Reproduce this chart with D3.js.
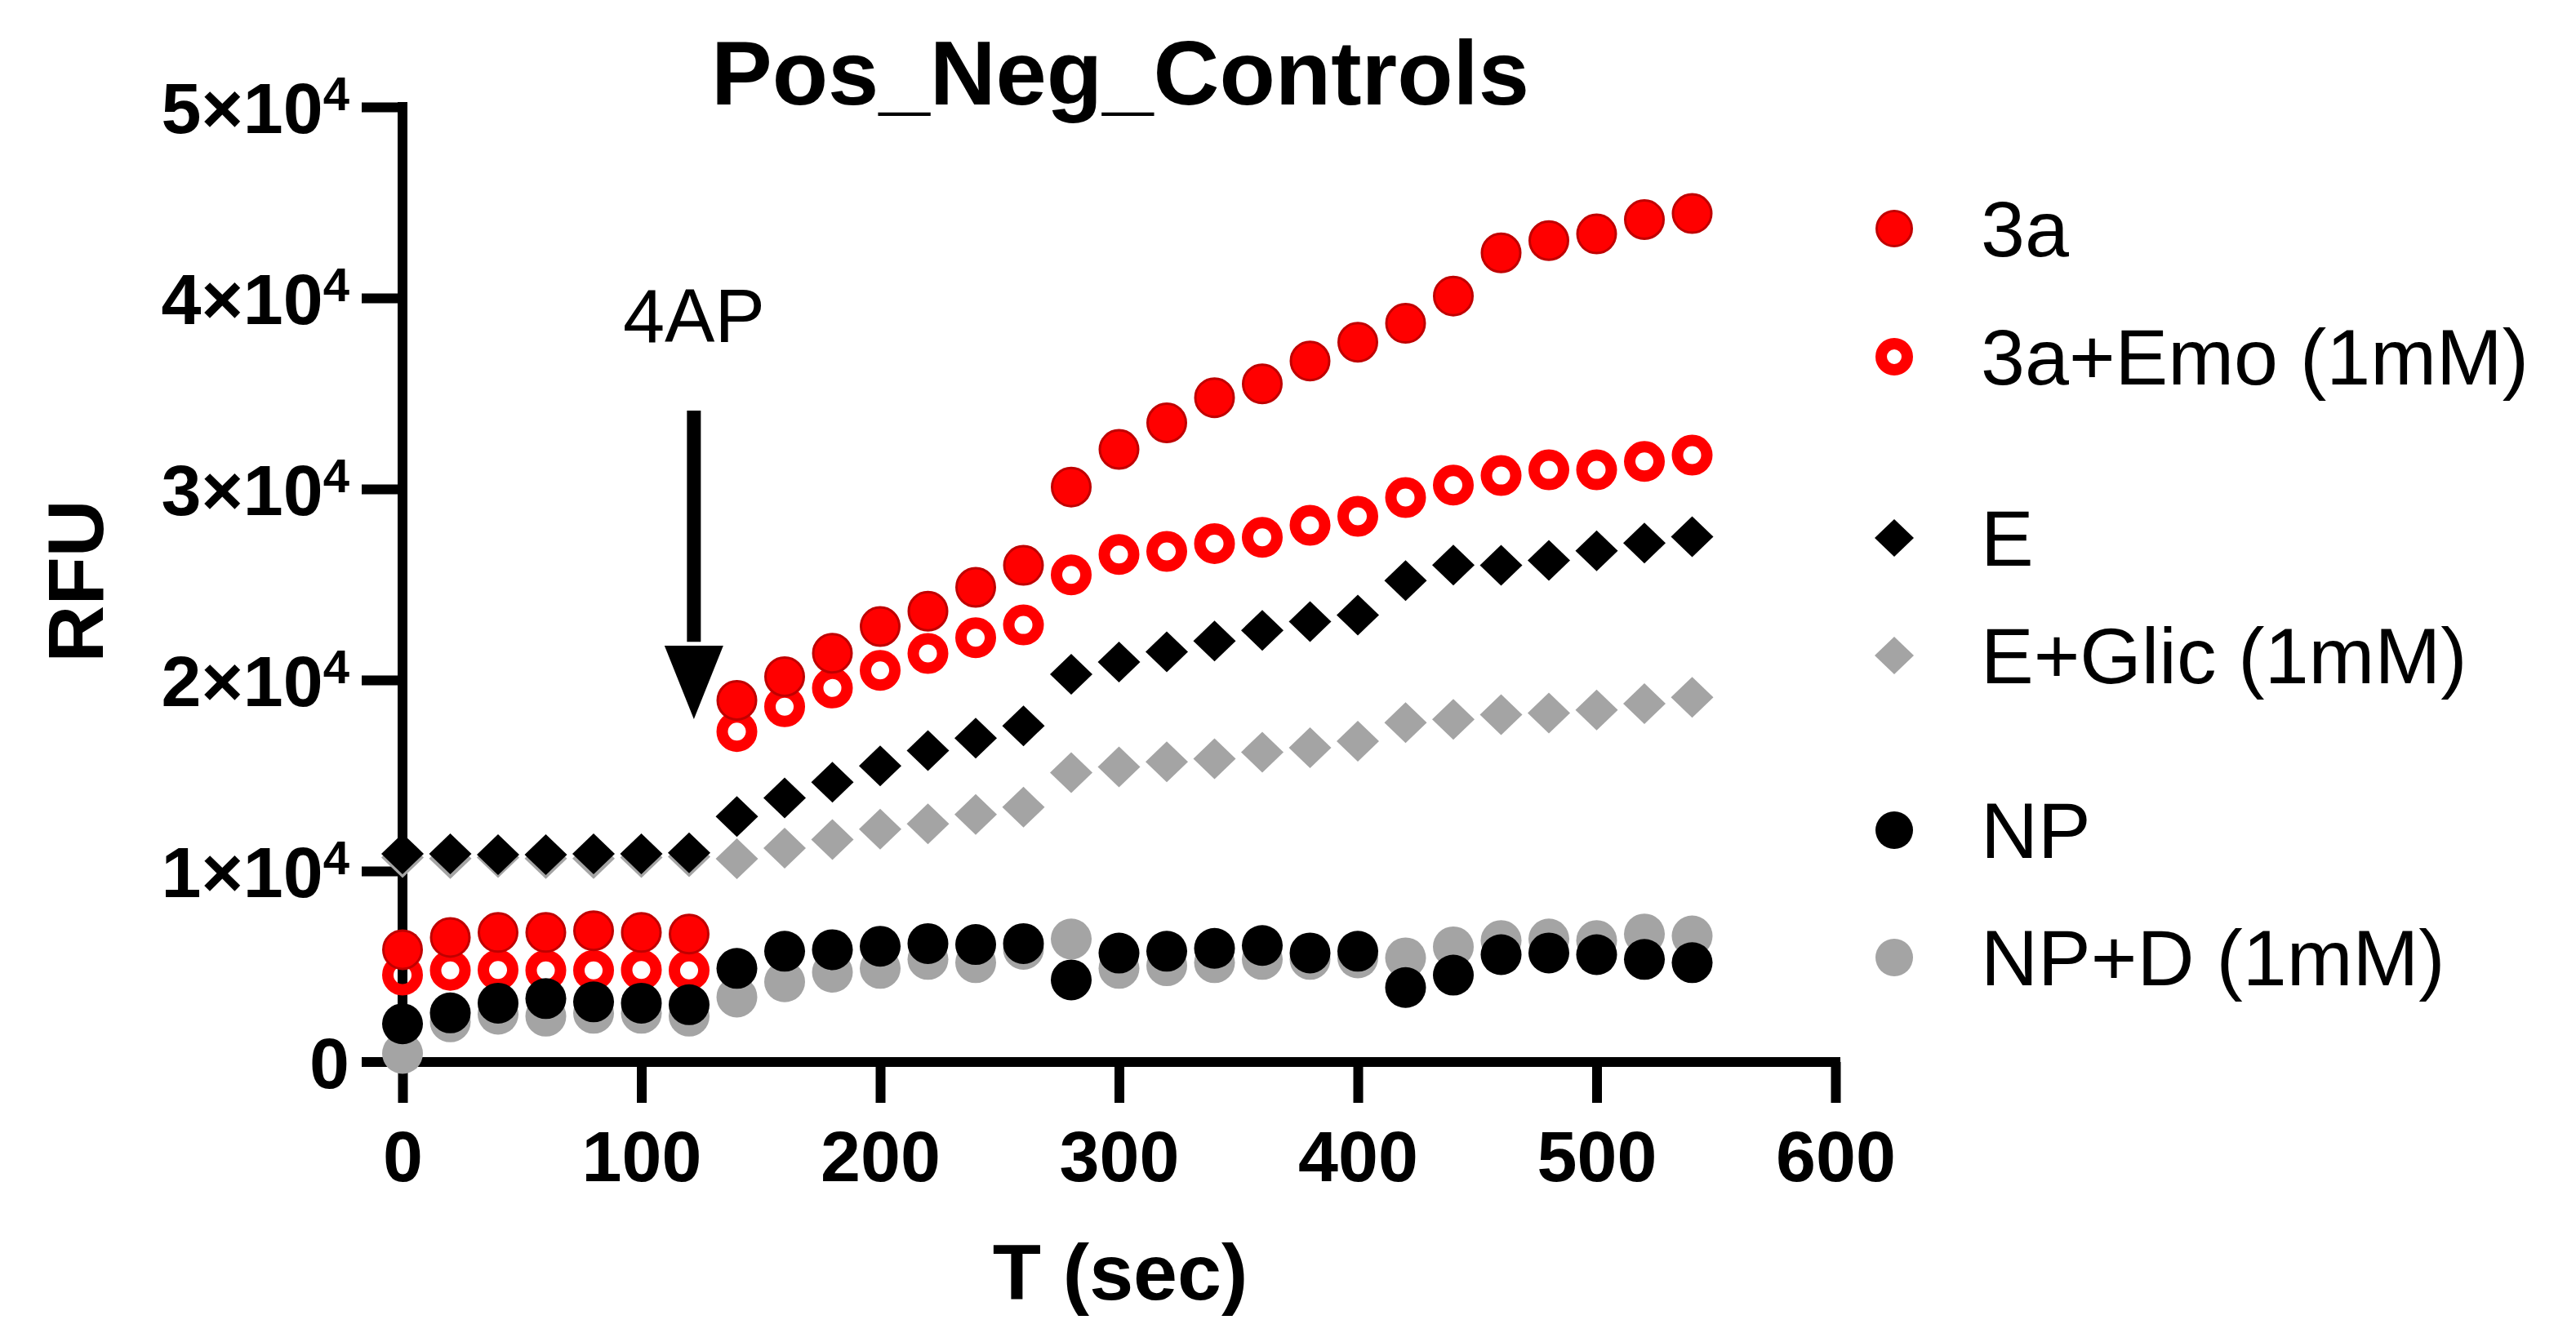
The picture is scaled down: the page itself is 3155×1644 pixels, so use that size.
<!DOCTYPE html>
<html>
<head>
<meta charset="utf-8">
<script src="https://cdn.jsdelivr.net/npm/d3@7"></script>
<style>
  body { margin: 0; background: #fff; }
  svg { display: block; }
</style>
</head>
<body>
<svg id="chart"></svg>
<script>
// time points (sec)
const times = [0,20,40,60,80,100,120,140,160,180,200,220,240,260,280,300,320,340,360,380,400,420,440,460,480,500,520,540];

// RFU
const rfu3a     = [5880,6520,6780,6780,6870,6780,6700,18930,20170,21400,22800,23600,24850,26000,30100,32070,33460,34780,35500,36700,37680,38670,40100,42360,43000,43350,44100,44420];
const rfu3aEmo  = [4550,4800,4820,4800,4800,4820,4800,17300,18600,19580,20500,21390,22210,22880,25500,26570,26730,27140,27470,28100,28570,29550,30200,30700,31000,31000,31440,31770];
const rfuE      = [10900,10900,10850,10850,10900,10900,10950,12850,13830,14650,15500,16300,16950,17600,20300,20940,21470,22040,22600,23060,23400,25200,26020,26000,26260,26760,27170,27500];
const rfuEGlic  = [10700,10650,10700,10650,10650,10700,10750,10640,11200,11650,12190,12470,12960,13340,15150,15450,15720,15880,16220,16450,16800,17770,17940,18180,18270,18430,18760,19090];
const rfuNP     = [2000,2570,3080,3320,3150,3080,3000,4900,5800,5880,6060,6200,6150,6200,4300,5700,5800,5950,6100,5710,5800,3900,4550,5620,5710,5620,5370,5200];
const rfuNPD    = [450,2100,2500,2400,2550,2550,2400,3400,4200,4700,4900,5370,5200,5900,6440,4900,5040,5200,5370,5370,5450,5450,6030,6360,6440,6360,6700,6600];

const seriesNames = ["3a","3a+Emo (1mM)","E","E+Glic (1mM)","NP","NP+D (1mM)"];
const xTicks = [0,100,200,300,400,500,600];
const yTicks = [0,10000,20000,30000,40000,50000];

const W = 3155, H = 1644
const font = "'Liberation Sans', Arial, sans-serif"
const red = "#ff0000", grey = "#a4a4a4"

// styles per series (same order as seriesNames)
const styles = [
  {shape:"circle", fill:red, stroke:"#c00000", sw:3},
  {shape:"ring", fill:"none", stroke:red, sw:14},
  {shape:"diamond", fill:"#000", stroke:"none", sw:0},
  {shape:"diamond", fill:grey, stroke:"none", sw:0},
  {shape:"circle", fill:"#000", stroke:"none", sw:0},
  {shape:"circle", fill:grey, stroke:"none", sw:0}
]
const values = [rfu3a, rfu3aEmo, rfuE, rfuEGlic, rfuNP, rfuNPD]
const series = seriesNames.map((name,i)=>({
  name: name,
  style: styles[i],
  points: times.map((t,j)=>({x:t, y:values[i][j]}))
}))

const svg = d3.select("#chart").attr("width",W).attr("height",H)

var x = d3.scaleLinear().domain([0,600]).range([493,2248])
var y = d3.scaleLinear().domain([0,50000]).range([1301,131])

// title
svg.append("text").attr("x",1372).attr("y",128).attr("text-anchor","middle")
  .style("font-family",font).style("font-weight","bold").style("font-size","112px")
  .text("Pos_Neg_Controls")

// x axis
const gx = svg.append("g").attr("transform","translate(0,"+y(0)+")")
  .call(d3.axisBottom(x).tickValues(xTicks).tickSize(50).tickSizeOuter(0).tickPadding(34).tickFormat(d3.format("d")))
gx.select(".domain").attr("stroke","#000").attr("stroke-width",12)
  .attr("d","M"+(443)+",0H"+(x(600)+6))
gx.selectAll(".tick line").attr("stroke","#000").attr("stroke-width",12)
gx.selectAll(".tick text").attr("fill","#000")
  .style("font-family",font).style("font-weight","bold").style("font-size","88px")

// y axis
const gy = svg.append("g").attr("transform","translate("+x(0)+",0)")
  .call(d3.axisLeft(y).tickValues(yTicks).tickSize(50).tickSizeOuter(0).tickPadding(15))
gy.select(".domain").attr("stroke","#000").attr("stroke-width",12)
  .attr("d","M0,"+(y(50000)-6)+"V"+y(0))
gy.selectAll(".tick line").attr("stroke","#000").attr("stroke-width",12)
gy.selectAll(".tick").filter(d=>d===0).select("line").remove()
gy.selectAll(".tick text").attr("fill","#000").attr("dy",null).attr("y",31)
  .style("font-family",font).style("font-weight","bold").style("font-size","88px")
  .each(function(d){
    const t = d3.select(this)
    t.text(null)
    if(d===0){ t.text("0"); return }
    t.append("tspan").text((d/10000)+"\u00d710")
    t.append("tspan").attr("dy",-28).style("font-size","58px").text("4")
  })

// axis titles
svg.append("text").attr("x",1372).attr("y",1592).attr("text-anchor","middle")
  .style("font-family",font).style("font-weight","bold").style("font-size","97px")
  .text("T (sec)")
svg.append("text").attr("transform","translate(126,712)rotate(-90)").attr("text-anchor","middle")
  .style("font-family",font).style("font-weight","bold").style("font-size","97px")
  .text("RFU")

// 4AP arrow annotation
const arrowT = 122
svg.append("text").attr("x",x(arrowT)).attr("y",y(37700)).attr("text-anchor","middle")
  .style("font-family",font).style("font-size","92px").text("4AP")
svg.append("line").attr("x1",x(arrowT)).attr("x2",x(arrowT))
  .attr("y1",y(34100)).attr("y2",y(22000)).attr("stroke","#000").attr("stroke-width",17)
svg.append("path").attr("fill","#000")
  .attr("d","M"+(x(arrowT)-36)+","+y(21800)+"L"+(x(arrowT)+36)+","+y(21800)+"L"+x(arrowT)+","+y(17950)+"Z")

// marker drawing
function marker(sel, st, big){
  const r = big ? 25 : 23
  if(st.shape==="diamond"){
    sel.append("path").attr("d","M0,"+(-r)+"L"+(r+1)+",0L0,"+r+"L"+(-r-1)+",0Z")
      .attr("fill",st.fill)
  } else if(st.shape==="ring"){
    sel.append("circle").attr("r",r-7).attr("fill","none").attr("stroke",st.stroke).attr("stroke-width",st.sw)
  } else {
    sel.append("circle").attr("r",st.sw ? r-1.5 : r).attr("fill",st.fill)
      .attr("stroke",st.stroke).attr("stroke-width",st.sw)
  }
}

// draw order, bottom to top
const drawOrder = [5,3,1,0,2,4]
drawOrder.forEach(i=>{
  const s = series[i]
  svg.append("g").selectAll("g").data(s.points).enter().append("g")
    .attr("transform",d=>"translate("+x(d.x)+","+y(d.y)+")")
    .each(function(){ marker(d3.select(this), s.style, true) })
})

// legend
const legendRows = [280,437,659,803,1017,1173]
const lg = svg.append("g")
series.forEach((s,i)=>{
  const row = lg.append("g").attr("transform","translate(2320,"+legendRows[i]+")")
  marker(row, s.style, false)
  row.append("text").attr("x",106).attr("y",34)
    .style("font-family",font).style("font-size","97px").text(s.name)
})
</script>
</body>
</html>
